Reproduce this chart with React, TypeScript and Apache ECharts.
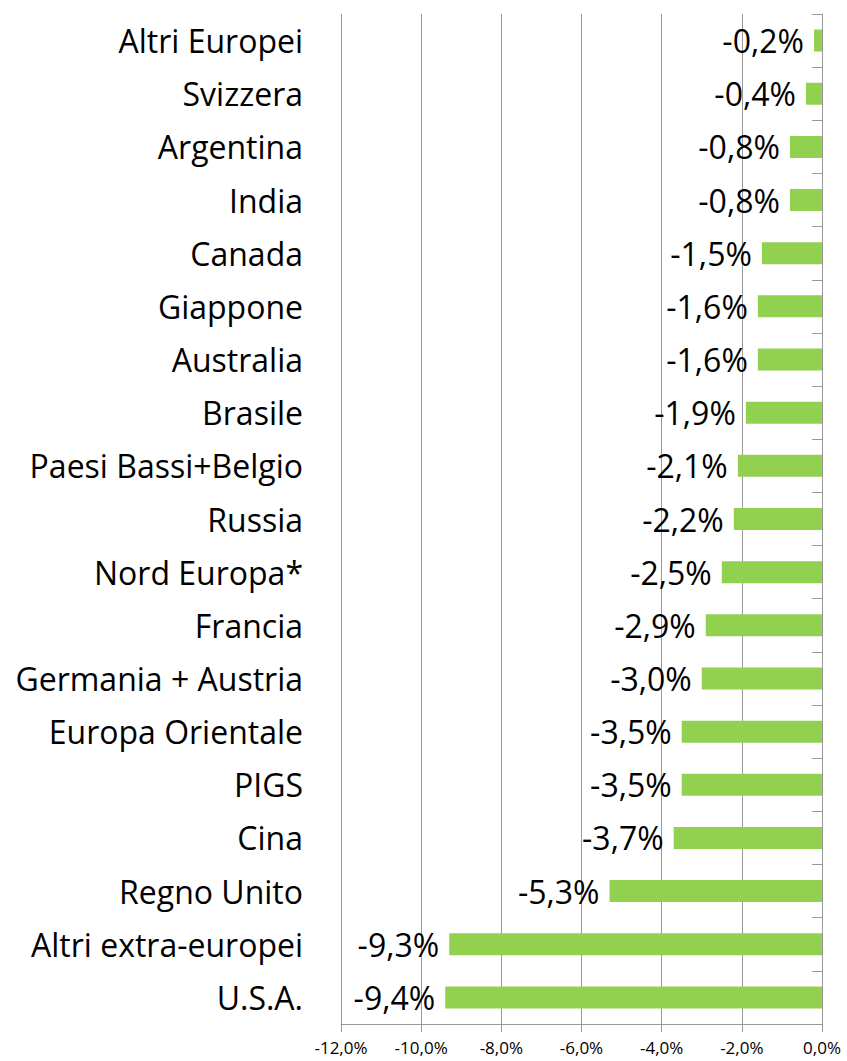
import React, { useEffect, useRef } from "react";
import * as echarts from "echarts";

const categories = [
  "Altri Europei",
  "Svizzera",
  "Argentina",
  "India",
  "Canada",
  "Giappone",
  "Australia",
  "Brasile",
  "Paesi Bassi+Belgio",
  "Russia",
  "Nord Europa*",
  "Francia",
  "Germania + Austria",
  "Europa Orientale",
  "PIGS",
  "Cina",
  "Regno Unito",
  "Altri extra-europei",
  "U.S.A.",
];

const values = [
  -0.2, -0.4, -0.8, -0.8, -1.5, -1.6, -1.6, -1.9, -2.1, -2.2, -2.5, -2.9, -3.0,
  -3.5, -3.5, -3.7, -5.3, -9.3, -9.4,
];

const fmt = (v: number) => v.toFixed(1).replace(".", ",") + "%";

export default function App() {
  const ref = useRef<HTMLDivElement>(null);
  useEffect(() => {
    if (!ref.current) return;
    const chart = echarts.init(ref.current, undefined, { renderer: "svg" });
    const font = "'Open Sans', Lato, sans-serif";
    chart.setOption({
      animation: false,
      textStyle: { fontFamily: font },
      grid: {
        left: 341,
        right: 25,
        top: 14,
        bottom: 37,
        containLabel: false,
        outerBoundsMode: "none",
      },
      xAxis: {
        type: "value",
        min: -12,
        max: 0,
        interval: 2,
        axisLine: { show: true, lineStyle: { color: "#999", width: 1 } },
        axisTick: { show: true, length: 8, lineStyle: { color: "#999" } },
        splitLine: { show: true, lineStyle: { color: "#999", width: 1 } },
        axisLabel: {
          formatter: (v: number) => fmt(v),
          fontSize: 17,
          color: "#000",
          margin: 15,
          fontFamily: font,
        },
      },
      yAxis: [
        {
          type: "category",
          data: categories,
          inverse: true,
          position: "left",
          axisLine: { show: false },
          axisTick: { show: false },
          axisLabel: {
            fontSize: 32,
            color: "#000",
            margin: 38,
            fontFamily: font,
          },
        },
        {
          type: "category",
          data: categories,
          inverse: true,
          position: "right",
          axisLine: { show: true, lineStyle: { color: "#999", width: 1 } },
          axisTick: { show: true, inside: true, length: 10, lineStyle: { color: "#999" } },
          axisLabel: { show: false },
        },
      ],
      series: [
        {
          type: "bar",
          data: values,
          yAxisIndex: 0,
          barWidth: 22,
          itemStyle: { color: "#92D050" },
          label: {
            show: true,
            position: "left",
            distance: 10,
            formatter: (p: any) => fmt(p.value),
            fontSize: 32,
            color: "#000",
            fontFamily: font,
          },
        },
      ],
    });
    return () => chart.dispose();
  }, []);
  return (
    <div
      ref={ref}
      style={{ position: "fixed", left: 0, top: 0, width: 847, height: 1061, background: "#fff" }}
    />
  );
}
